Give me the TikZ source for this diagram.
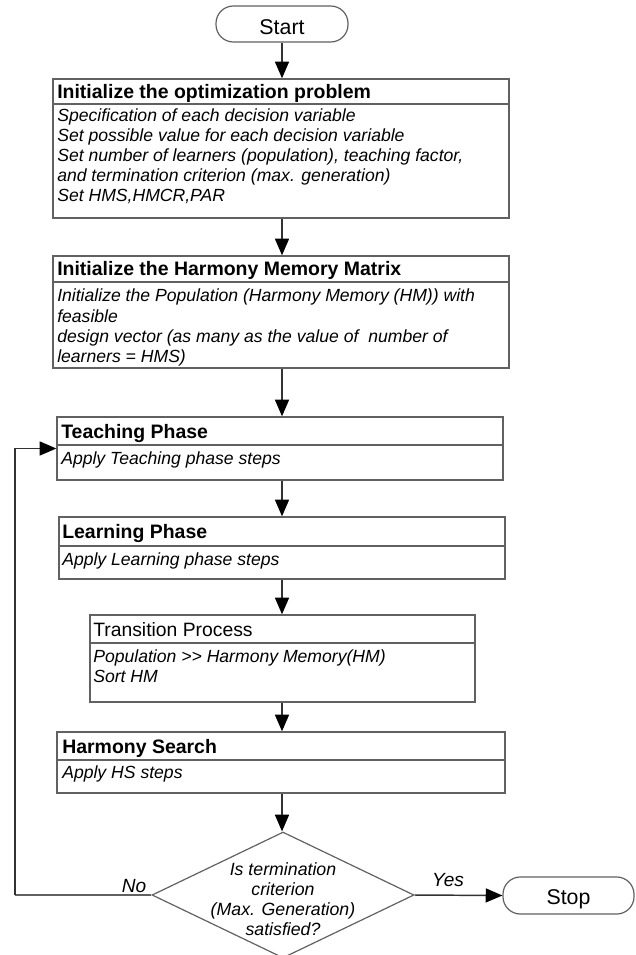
\documentclass[tikz,border=0pt]{standalone}
\usepackage{fontspec}
\setmainfont{Liberation Sans}
\usetikzlibrary{arrows.meta,shapes.geometric,fit}
\begin{document}
\begin{tikzpicture}[x=0.75pt,y=-0.75pt,
  boxframe/.style={draw=black!62, line width=1pt, inner sep=0pt},
  divider/.style={draw=black!62, line width=1pt},
  termbox/.style={draw=black!62, line width=0.9pt, inner sep=0pt, rounded corners=13pt},
  hdr/.style={anchor=base west, inner sep=0pt, font=\bfseries\fontsize{14.6}{17}\selectfont},
  hdrplain/.style={anchor=base west, inner sep=0pt, font=\fontsize{14.5}{17}\selectfont},
  bodytxt/.style={anchor=base west, inner sep=0pt, font=\itshape\fontsize{13.2}{15}\selectfont},
  termtxt/.style={inner sep=0pt, font=\fontsize{16}{18}\selectfont},
  dtxt/.style={inner sep=0pt, align=center, font=\itshape\fontsize{13.3}{15}\selectfont},
  yn/.style={anchor=base, inner sep=0pt, font=\itshape\fontsize{14.3}{16}\selectfont},
  arr/.style={draw=black!80, line width=1.1pt, -{Triangle[length=12.5pt,width=10.5pt,fill=black,color=black]}},
  conn/.style={draw=black!62, line width=1.1pt}
]
\useasboundingbox (0,0) rectangle (635,955);

% Start
\node[termbox, fit={(216,6) (348,42)}] (start) {};
\node[termtxt] (starttxt) at ([yshift=-2.5pt]start.center) {Start};

% Box 1
\node[boxframe, fit={(53,79) (509,218)}] (b1) {};
\draw[divider] (53,104) -- (509,104);
\node[hdr] (b1h) at (57,99) {Initialize the optimization problem};
\node[bodytxt] (b1a) at (57,122) {Specification of each decision variable};
\node[bodytxt] (b1b) at (57,142) {Set possible value for each decision variable};
\node[bodytxt] (b1c) at (57,162) {Set number of learners (population), teaching factor,};
\node[bodytxt] (b1d) at (57,182) {and termination criterion (max. generation)};
\node[bodytxt] (b1e) at (57,202) {Set HMS,HMCR,PAR};

% Box 2
\node[boxframe, fit={(53,256) (509,368)}] (b2) {};
\draw[divider] (53,282) -- (509,282);
\node[hdr] (b2h) at (57,276) {Initialize the Harmony Memory Matrix};
\node[bodytxt] (b2a) at (57,301) {Initialize the Population (Harmony Memory (HM)) with};
\node[bodytxt] (b2b) at (57,322) {feasible};
\node[bodytxt] (b2c) at (57,342) {design vector (as many as the value of\ \ number of};
\node[bodytxt] (b2d) at (57,362) {learners = HMS)};

% Teaching phase
\node[boxframe, fit={(57,417) (503,480)}] (tp) {};
\draw[divider] (57,445) -- (503,445);
\node[hdr] (tph) at (61,438) {Teaching Phase};
\node[bodytxt] (tpa) at (61,464) {Apply Teaching phase steps};

% Learning phase
\node[boxframe, fit={(59,517) (505,579)}] (lp) {};
\draw[divider] (59,546) -- (505,546);
\node[hdr] (lph) at (62,538) {Learning Phase};
\node[bodytxt] (lpa) at (62,565) {Apply Learning phase steps};

% Transition process
\node[boxframe, fit={(90,615) (475,702)}] (tr) {};
\draw[divider] (90,643) -- (475,643);
\node[hdrplain] (trh) at (93,636) {Transition Process};
\node[bodytxt] (tra) at (93,662) {Population {>}{>} Harmony Memory(HM)};
\node[bodytxt] (trb) at (93,682) {Sort HM};

% Harmony search
\node[boxframe, fit={(57,732) (505,793)}] (hs) {};
\draw[divider] (57,760) -- (505,760);
\node[hdr] (hsh) at (62,753) {Harmony Search};
\node[bodytxt] (hsa) at (62,778) {Apply HS steps};

% Decision
\node[diamond, draw=black!62, line width=0.9pt, inner sep=0pt, aspect=1,
      minimum width=196.5pt, minimum height=94.5pt] (dec) at (283,895) {};
\node[dtxt] (dect) at (283,899) {Is termination\\criterion\\(Max. Generation)\\satisfied?};

% Stop
\node[termbox, fit={(503,877) (634,914)}] (stop) {};
\node[termtxt] (stoptxt) at ([yshift=-2.5pt]stop.center) {Stop};

% Connectors
\coordinate (col) at (282,0);
\draw[arr] (start.south -| col) -- (b1.north -| col);
\draw[arr] (b1.south -| col) -- (b2.north -| col);
\draw[arr] (b2.south -| col) -- (tp.north -| col);
\draw[arr] (tp.south -| col) -- (lp.north -| col);
\draw[arr] (lp.south -| col) -- (tr.north -| col);
\draw[arr] (tr.south -| col) -- (hs.north -| col);
\draw[arr] (hs.south -| col) -- (dec.north -| col);

\coordinate (loopc) at (15,895);
\draw[conn] (dec.west) -- (loopc);
\draw[arr] (loopc) |- (tp.west);
\draw[arr] (dec.east) -- (stop.west);

\node[yn] (nolbl) at (134,892) {No};
\node[yn] (yeslbl) at (448,886) {Yes};
\end{tikzpicture}
\end{document}
